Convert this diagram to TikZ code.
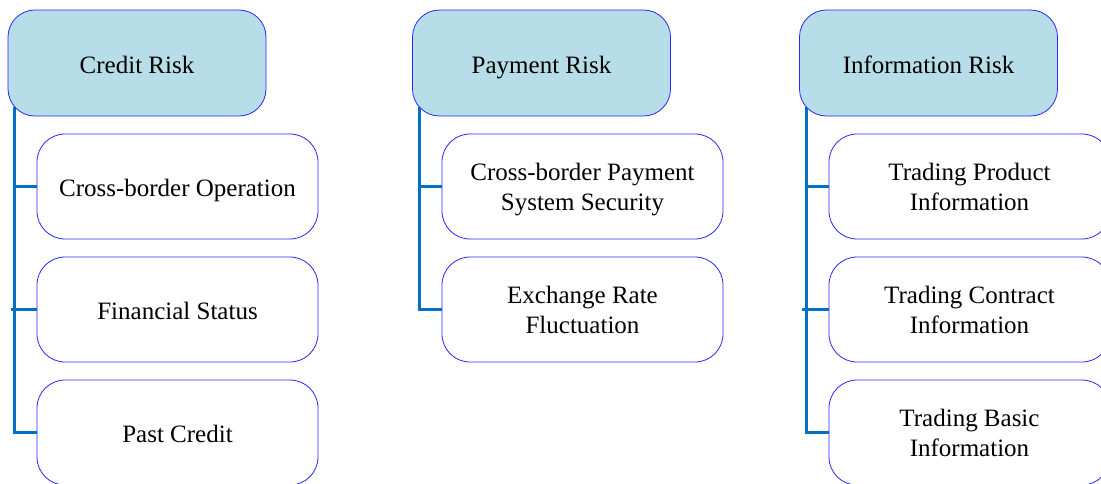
\documentclass[tikz,border=0pt]{standalone}
\usepackage{fontspec}
\setmainfont{Liberation Serif}
\usetikzlibrary{calc}
\definecolor{hdrfill}{RGB}{183,221,232}
\definecolor{boxline}{RGB}{40,40,255}
\definecolor{conn}{RGB}{0,112,192}
\pgfdeclarelayer{bg}
\pgfsetlayers{bg,main}
\tikzset{
  boxtext/.style={align=center, inner sep=0pt,
    font=\fontsize{25}{30}\selectfont},
  oneline/.style={text height=25pt, text depth=5pt},
  twoline/.style={text height=53pt, text depth=5pt},
  hdr/.style={boxtext, oneline, draw=boxline, line width=0.8pt, fill=hdrfill, rounded corners=27pt,
    minimum width=258pt, minimum height=106pt},
  child/.style={boxtext, oneline, draw=boxline, line width=0.8pt, fill=white, rounded corners=28pt,
    minimum width=281pt, minimum height=105pt},
  conn/.style={draw=conn, line width=3pt}
}
\begin{document}
\begin{tikzpicture}[x=1pt,y=-1pt]
\clip (0,0) rectangle (1101,483);
% Credit Risk
\node[hdr] (h1) at (137,63) {Credit Risk};
\node[child] (c11) at (177.5,186.5) {Cross-border Operation};
\node[child] (c12) at (177.5,309.5) {Financial Status};
\node[child] (c13) at (177.5,432.5) {Past Credit};
% Payment Risk
\node[hdr] (h2) at (541.5,63) {Payment Risk};
\node[child,twoline] (c21) at (582.5,186.5) {Cross-border Payment\\System Security};
\node[child,twoline] (c22) at (582.5,309.5) {Exchange Rate\\Fluctuation};
% Information Risk
\node[hdr] (h3) at (928.5,63) {Information Risk};
\node[child,twoline] (c31) at (969.5,186.5) {Trading Product\\Information};
\node[child,twoline] (c32) at (969.5,309.5) {Trading Contract\\Information};
\node[child,twoline] (c33) at (969.5,432.5) {Trading Basic\\Information};
% connectors
\coordinate (s1) at ($(h1.south west)+(7,-9)$);
\coordinate (s2) at ($(h2.south west)+(7,-9)$);
\coordinate (s3) at ($(h3.south west)+(7,-9)$);
\begin{pgfonlayer}{bg}
\draw[conn] (s1) |- (c13.west);
\draw[conn] (s1 |- c11.west) -- (c11.west);
\draw[conn] ($(s1 |- c12.west)+(-4,0)$) -- (c12.west);
\draw[conn] (s2) |- (c22.west);
\draw[conn] (s2 |- c21.west) -- (c21.west);
\draw[conn] (s3) |- (c33.west);
\draw[conn] (s3 |- c31.west) -- (c31.west);
\draw[conn] ($(s3 |- c32.west)+(-4,0)$) -- (c32.west);
\end{pgfonlayer}
\end{tikzpicture}
\end{document}
